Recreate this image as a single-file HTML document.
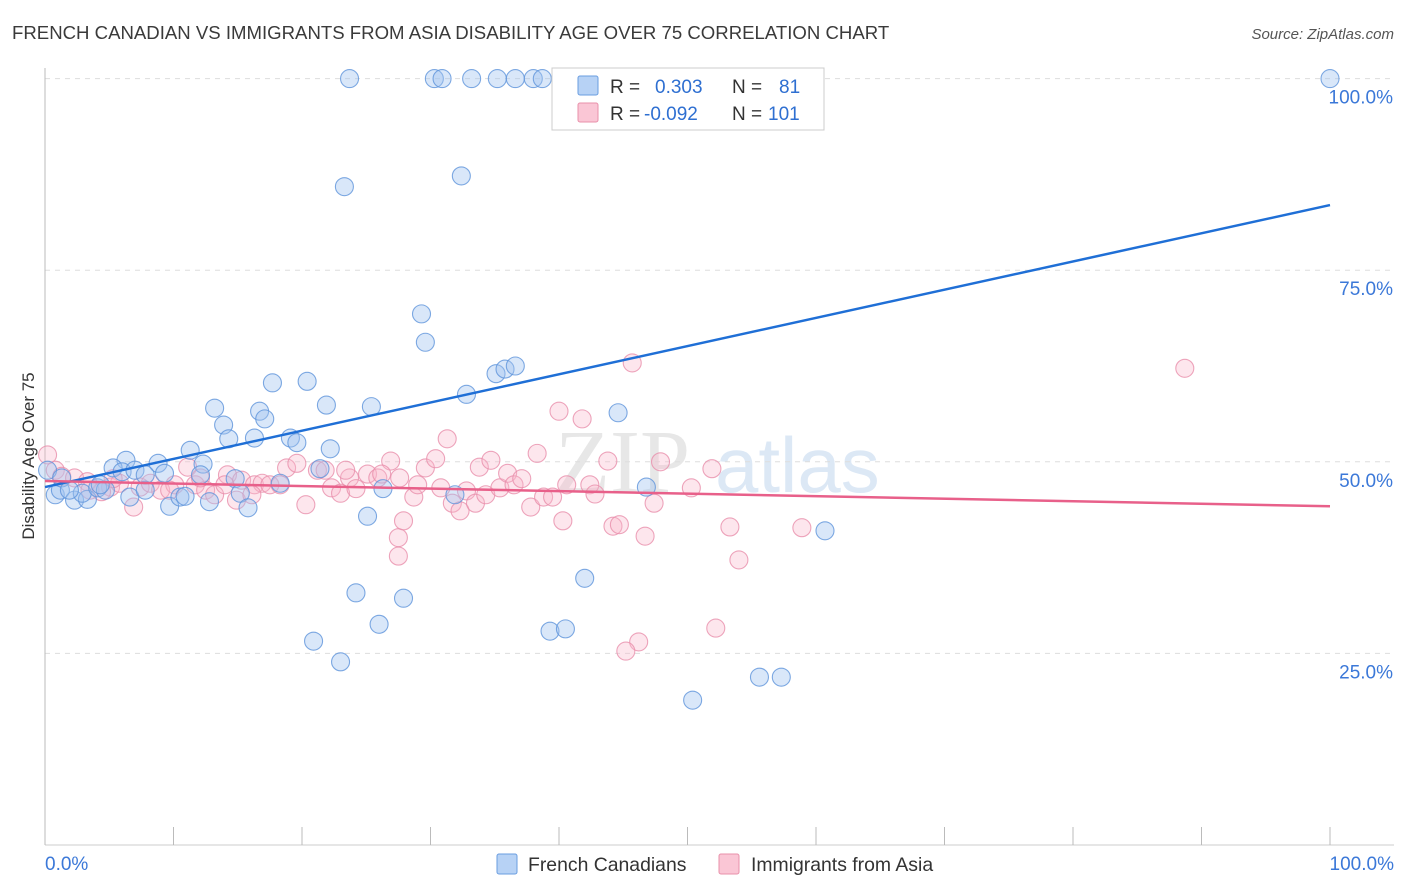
<!DOCTYPE html>
<html><head><meta charset="utf-8"><style>
body{margin:0;background:#fff;font-family:"Liberation Sans",sans-serif;}
svg{display:block}
</style></head><body>
<svg id="c" width="1406" height="892" viewBox="0 0 1406 892">
<text x="12" y="39" font-size="18.6" fill="#3a3a3a">FRENCH CANADIAN VS IMMIGRANTS FROM ASIA DISABILITY AGE OVER 75 CORRELATION CHART</text>
<text x="1394" y="39" font-size="15" fill="#555" font-style="italic" text-anchor="end">Source: ZipAtlas.com</text>
<text transform="translate(34,456) rotate(-90)" font-size="17" fill="#333" text-anchor="middle">Disability Age Over 75</text>
<g><text x="555" y="492" font-size="90" font-family="Liberation Serif,serif" fill="#d8d8d8" opacity="0.6">ZIP</text><text x="715" y="492" font-size="78" fill="#c6d9f0" opacity="0.6">atlas</text></g>
<g id="grid"></g><g id="axes"></g><g id="pts"></g><g id="lines"></g>
<g>
<rect x="552" y="68" width="272" height="62" fill="#fff" stroke="#ccc"/>
<rect x="578" y="76" width="20" height="19" fill="#b7d2f5" stroke="#6a9de0" rx="2"/>
<rect x="578" y="103" width="20" height="19" fill="#fac6d5" stroke="#e890aa" rx="2"/>
<text x="610" y="93" font-size="19" fill="#333">R = <tspan fill="#2e6fd1" x="655">0.303</tspan><tspan x="732">N = </tspan><tspan fill="#2e6fd1" x="779">81</tspan></text>
<text x="610" y="120" font-size="19" fill="#333">R = <tspan fill="#2e6fd1" x="644">-0.092</tspan><tspan x="732">N = </tspan><tspan fill="#2e6fd1" x="768">101</tspan></text>
</g>
<g>
<rect x="497" y="854" width="20" height="20" fill="#b7d2f5" stroke="#6a9de0" rx="2"/>
<text x="528" y="871" font-size="19.4" fill="#333">French Canadians</text>
<rect x="719" y="854" width="20" height="20" fill="#fac6d5" stroke="#e890aa" rx="2"/>
<text x="751" y="871" font-size="19.4" fill="#333">Immigrants from Asia</text>
</g>
</svg>
<script>
const yTicks=[25,50,75,100];
const yTickLabels=["25.0%","50.0%","75.0%","100.0%"];
const xTickCount=[0,10,20,30,40,50,60,70,80,90,100];
const blueX=[23.7,30.3,30.9,33.2,35.2,36.6,38.0,38.7,52.9,58.0,100,23.3,32.4,29.3,29.6,17.7,20.4,32.8,35.1,35.8,36.6,13.2,13.9,14.3,16.7,17.1,16.3,19.1,19.6,21.9,25.4,22.2,44.6,11.3,12.3,6.3,8.8,5.3,6.0,7.0,9.3,12.1,14.8,18.3,21.4,0.2,0.8,1.2,2.3,3.3,2.9,4.1,4.7,6.6,7.8,9.7,10.5,10.9,12.8,15.2,15.8,26.3,31.9,46.8,25.1,60.7,42.0,24.2,27.9,26.0,20.9,23.0,39.3,40.5,50.4,55.6,57.3,1.3,1.9,4.3,7.8];
const blueY=[100,100,100,100,100,100,100,100,100,100,100,85.9,87.3,69.3,65.6,60.3,60.5,58.8,61.5,62.1,62.5,57.0,54.8,53.0,56.6,55.6,53.1,53.1,52.5,57.4,57.2,51.7,56.4,51.5,49.7,50.2,49.8,49.2,48.7,48.9,48.5,48.3,47.8,47.2,49.1,48.9,45.7,46.3,45.0,45.1,45.9,46.6,46.3,45.4,46.3,44.2,45.4,45.5,44.8,45.9,44.0,46.5,45.7,46.7,42.9,41.0,34.8,32.9,32.2,28.8,26.6,23.9,27.9,28.2,18.9,21.9,21.9,47.9,46.3,47.0,48.3];
const pinkX=[0.2,0.8,1.3,2.3,3.3,5.1,5.8,6.9,7.4,8.2,9.0,10.1,11.1,11.7,12.5,13.2,14.2,14.9,15.3,16.3,16.9,17.5,18.3,18.8,19.6,20.3,21.2,21.8,22.3,23.0,23.7,24.2,25.1,25.9,26.9,27.5,27.9,27.5,28.7,29.6,30.4,31.3,30.8,31.7,32.3,32.8,33.5,33.8,34.3,34.7,35.4,36.0,36.5,37.1,37.8,38.3,38.8,39.5,40.0,40.3,40.6,41.8,42.4,42.8,43.8,44.2,44.7,45.7,46.2,46.7,45.2,47.4,47.9,50.3,51.9,53.3,54.0,52.2,58.9,88.7,5.3,4.4,3.5,9.7,14.0,12.1,16.1,23.4,26.2,27.6,29.0];
const pinkY=[50.9,48.9,48.1,47.9,47.4,46.7,47.2,44.1,46.7,47.2,46.3,47.0,49.3,47.0,46.3,45.7,48.3,45.0,47.6,47.0,47.2,47.0,47.0,49.2,49.8,44.4,48.9,48.9,46.6,45.9,47.9,46.5,48.4,47.9,50.1,40.1,42.3,37.7,45.4,49.2,50.4,53.0,46.6,44.6,43.6,46.2,44.6,49.3,45.7,50.2,46.6,48.5,47.0,47.8,44.1,51.1,45.4,45.4,56.6,42.3,47.0,55.6,47.0,45.8,50.1,41.6,41.8,62.9,26.5,40.3,25.3,44.6,50.0,46.6,49.1,41.5,37.2,28.3,41.4,62.2,47.8,46.1,46.3,46.3,47.0,47.9,45.7,48.9,48.4,47.9,47.0];
const blueTrend=[46.7,83.5];
const pinkTrend=[47.5,44.2];
const NS="http://www.w3.org/2000/svg";
const X=v=>45+v*12.85, Y=v=>845-v*7.664;
function mk(t,a,p){const e=document.createElementNS(NS,t);for(const k in a)e.setAttribute(k,a[k]);p.appendChild(e);return e;}
const grid=document.getElementById('grid'),axes=document.getElementById('axes');
yTicks.forEach((t,i)=>{
 const l=mk('line',{x1:45,x2:1394,y1:Y(t),y2:Y(t),stroke:'#ddd','stroke-dasharray':'5,5'},grid);
 
 
 const tx=mk('text',{x:1393,y:Y(t)+25,'font-size':19,fill:'#3b78d8','text-anchor':'end'},axes);
 tx.textContent=yTickLabels[i];
 
 
});
const ya=mk('line',{x1:45,x2:45,y1:68,y2:845,stroke:'#bbb'},axes);


const xa=mk('line',{x1:45,x2:1394,y1:845,y2:845,stroke:'#ccc'},axes);


xTickCount.forEach(t=>{const l=mk('line',{x1:X(t),x2:X(t),y1:827,y2:845,stroke:'#bbb'},axes);
 
 });
const x0=mk('text',{x:45,y:870,'font-size':19,fill:'#3b78d8'},axes);x0.textContent='0.0%';


const x1=mk('text',{x:1394,y:870,'font-size':19,fill:'#3b78d8','text-anchor':'end'},axes);x1.textContent='100.0%';


const pts=document.getElementById('pts');
pinkX.forEach((v,i)=>{const c=mk('circle',{cx:X(v),cy:Y(pinkY[i]),r:9,fill:'rgba(248,182,202,0.35)',stroke:'rgba(233,143,171,0.8)','stroke-width':1.1},pts);
 
 });
blueX.forEach((v,i)=>{const c=mk('circle',{cx:X(v),cy:Y(blueY[i]),r:9,fill:'rgba(160,195,240,0.4)',stroke:'rgba(94,147,219,0.8)','stroke-width':1.1},pts);
 
 });
const lines=document.getElementById('lines');
const bl=mk('line',{x1:X(0),y1:Y(blueTrend[0]),x2:X(100),y2:Y(blueTrend[1]),stroke:'#1f6fd6','stroke-width':2.5},lines);


const pl=mk('line',{x1:X(0),y1:Y(pinkTrend[0]),x2:X(100),y2:Y(pinkTrend[1]),stroke:'#e8608a','stroke-width':2.5},lines);


</script>
</body></html>
